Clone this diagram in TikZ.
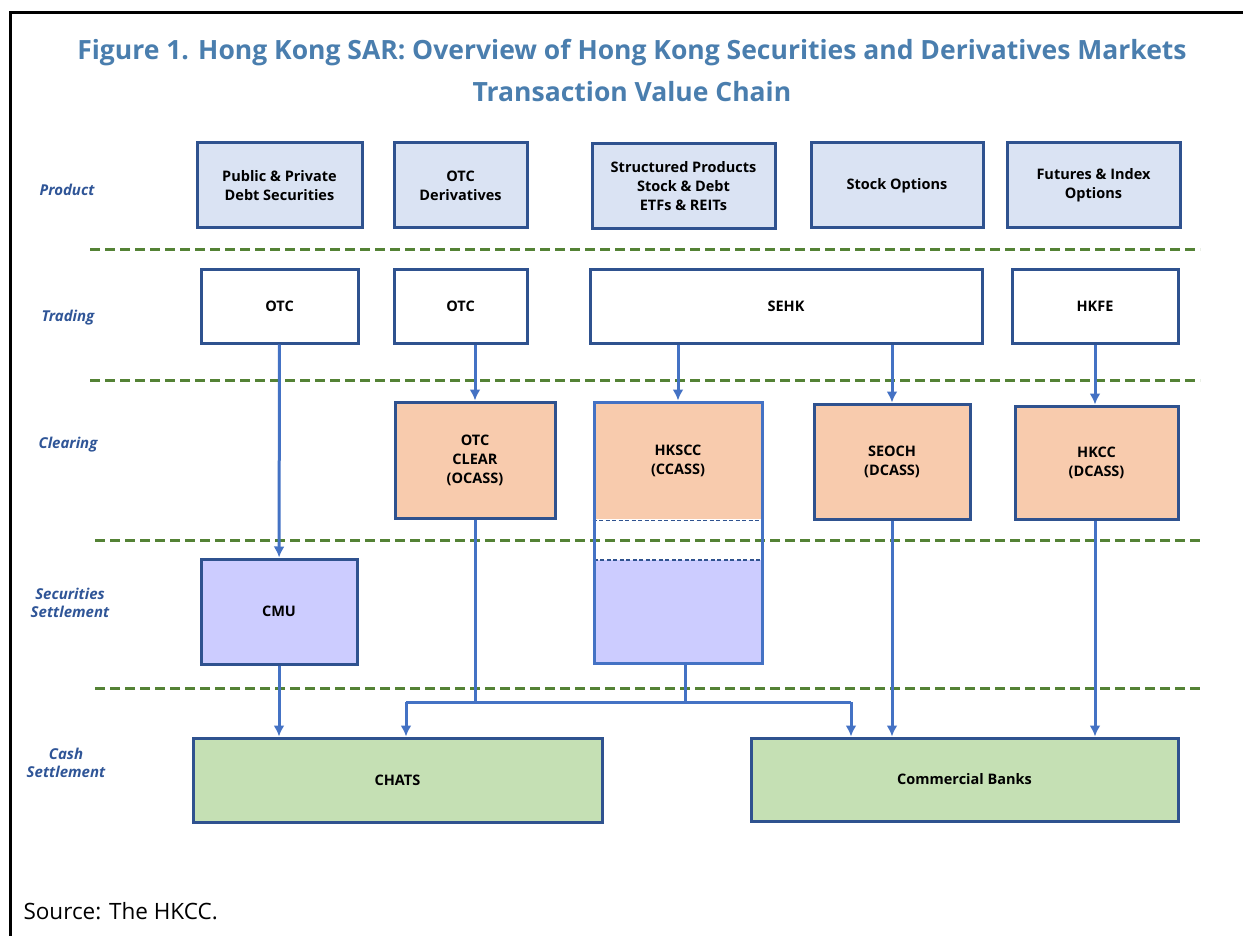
\documentclass[tikz,border=0pt]{standalone}
\usepackage{fontspec}
\setmainfont{Open Sans}
\usetikzlibrary{arrows.meta}
\definecolor{titleblue}{RGB}{74,126,174}
\definecolor{rowblue}{RGB}{47,85,151}
\definecolor{boxline}{RGB}{47,82,143}
\definecolor{arrowblue}{RGB}{68,114,196}
\definecolor{prodfill}{RGB}{218,227,243}
\definecolor{clrfill}{RGB}{248,203,173}
\definecolor{secfill}{RGB}{204,204,255}
\definecolor{cashfill}{RGB}{197,224,180}
\definecolor{sepgreen}{RGB}{84,130,53}
\begin{document}
\begin{tikzpicture}[x=1pt, y=-1pt,
    box/.style = {draw=boxline, line width=3pt, align=center, inner sep=2pt,
                  font=\fontsize{14.5}{19}\selectfont\bfseries},
    rowlabel/.style = {align=center, text=rowblue, font=\fontsize{15}{18.5}\selectfont\bfseries\itshape},
    arr/.style = {arrowblue, line width=3pt, -{Latex[length=11pt,width=11pt]}},
    bus/.style = {arrowblue, line width=3pt},
    sep/.style = {sepgreen, line width=3pt, dash pattern=on 10pt off 5pt}]
    \useasboundingbox (0,0) rectangle (1243,936);
    \draw[line width=3pt] (9,13) -- (1243,13);
    \draw[line width=3pt] (10,13) -- (10,936);
    \node[align=center, text=titleblue, font=\fontsize{26.5}{42}\selectfont\bfseries] (title) at (632,70)
        {Figure 1. Hong Kong SAR: Overview of Hong Kong Securities and Derivatives Markets\\Transaction Value Chain};
    \node[anchor=west, font=\fontsize{22.5}{26}\selectfont] (source) at (20,911) {Source: The HKCC.};
    \begin{scope}[every node/.style = rowlabel]
        \node (lProduct) at (67,190) {Product};
        \node (lTrading) at (68,318) {Trading};
        \node (lClearing) at (68,445) {Clearing};
        \node (lSecurities) at (70,603) {Securities\\Settlement};
        \node (lCash) at (66,763) {Cash\\Settlement};
    \end{scope}
    \draw[sep] (90,250) -- (1200,250);
    \draw[sep] (90,380) -- (1200,380);
    \draw[sep] (95,540) -- (1200,540);
    \draw[sep] (95,688) -- (1200,688);
    \begin{scope}[every node/.style = {box, fill=prodfill, minimum height=85}]
        \node[minimum width=165] (prodDebt) at (279.5,185.5) {Public \& Private\\Debt Securities};
        \node[minimum width=133] (prodOTC) at (460.5,185.5) {OTC\\Derivatives};
        \node[minimum width=183] (prodStruct) at (683.5,186.5) {Structured Products\\Stock \& Debt\\ETFs \& REITs};
        \node[minimum width=172] (prodStock) at (897,185.5) {Stock Options};
        \node[minimum width=173] (prodFut) at (1093.5,185.5) {Futures \& Index\\Options};
    \end{scope}
    \begin{scope}[every node/.style = {box, fill=white, minimum height=73}]
        \node[minimum width=157] (otcA) at (279.5,306.5) {OTC};
        \node[minimum width=133] (otcB) at (460.5,306.5) {OTC};
        \node[minimum width=392] (sehk) at (786,306.5) {SEHK};
        \node[minimum width=166] (hkfe) at (1095,306.5) {HKFE};
    \end{scope}
    \begin{scope}[every node/.style = {box, fill=clrfill}]
        \node[minimum width=160, minimum height=116] (otcclear) at (475,460) {OTC\\CLEAR\\(OCASS)};
        \node[minimum width=156, minimum height=115] (seoch) at (892,461.5) {SEOCH\\(DCASS)};
        \node[minimum width=163, minimum height=113] (hkcc) at (1096.5,462.5) {HKCC\\(DCASS)};
    \end{scope}
    \node[box, draw=none, fill=clrfill, minimum width=168, minimum height=117] (hksccTop) at (678,460.5) {HKSCC\\(CCASS)};
    \node[fill=secfill, minimum width=168, minimum height=103] (hksccBot) at (678,611.5) {};
    \draw[boxline, line width=1.5pt, dash pattern=on 4pt off 2.5pt] (hksccTop.south west) -- (hksccTop.south east);
    \draw[boxline, line width=1.5pt, dash pattern=on 4pt off 2.5pt] (hksccBot.north west) -- (hksccBot.north east);
    \node[draw=arrowblue, line width=3pt, minimum width=168, minimum height=261] (hkscc) at (678,532.5) {};
    \node[box, fill=secfill, minimum width=156, minimum height=105] (cmu) at (279,611.5) {CMU};
    \begin{scope}[every node/.style = {box, fill=cashfill}]
        \node[minimum width=409, minimum height=84] (chats) at (397.5,780) {CHATS};
        \node[minimum width=427, minimum height=83] (banks) at (964.5,779.5) {Commercial Banks};
    \end{scope}
    \coordinate (busL) at (406,702);
    \coordinate (busR) at (851,702);
    \draw[arr] (otcA) -- (cmu);
    \draw[arr] (otcB.south -| otcclear) -- (otcclear.north);
    \draw[arr] (sehk.south -| hkscc) -- (hkscc.north);
    \draw[arr] (sehk.south -| seoch) -- (seoch.north);
    \draw[arr] (hkfe.south) -- (hkfe.south |- hkcc.north);
    \draw[arr] (cmu.south) -- (cmu.south |- chats.north);
    \draw[bus] (otcclear.south) -- (otcclear.south |- busL);
    \draw[bus] ([xshift=7pt]hkscc.south) -- ([xshift=7pt]hkscc.south |- busL);
    \draw[bus] (busL) -- (busR);
    \draw[arr] (busL) -- (busL |- chats.north);
    \draw[arr] (busR) -- (busR |- banks.north);
    \draw[arr] (seoch.south) -- (seoch.south |- banks.north);
    \draw[arr] (hkfe.south |- hkcc.south) -- (hkfe.south |- banks.north);
\end{tikzpicture}
\end{document}
